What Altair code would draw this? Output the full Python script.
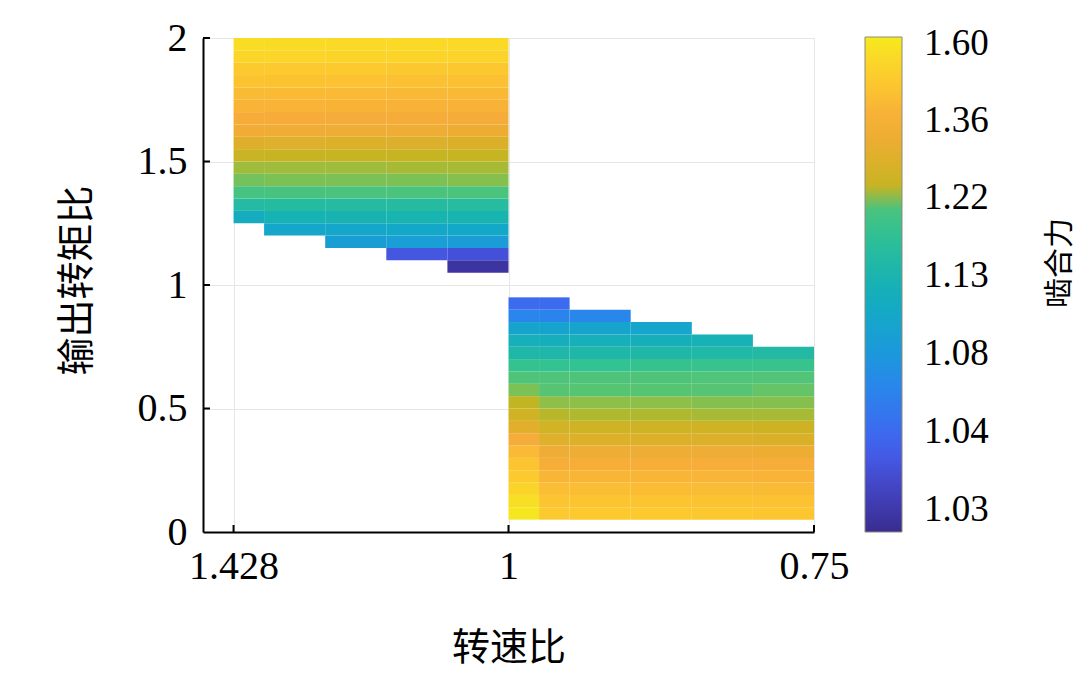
import altair as alt
import pandas as pd
import numpy as np

# ---------------- data ----------------
# x axis: grid index positions with their speed-ratio labels
x_tick_pos = [0, 4.5, 9.5]
x_tick_labels = ["1.428", "1", "0.75"]
y_ticks = [0, 0.5, 1, 1.5, 2]

# colour bar: labels and their fractional position along the bar (bottom=0, top=1)
cbar_values = [1.03, 1.04, 1.08, 1.13, 1.22, 1.36, 1.60]
cbar_pos = [0.044, 0.202, 0.360, 0.517, 0.675, 0.830, 0.986]
cbar_ends = [1.0272, 1.6215]          # values at the bar bottom / top

# colour stops along the bar (fraction, colour)
stop_pos = [0.000, 0.044, 0.100, 0.140, 0.202, 0.287, 0.360, 0.442, 0.517,
            0.610, 0.671, 0.678, 0.685, 0.731, 0.778, 0.832, 0.893, 0.947, 1.000]
stop_col = ["#392c90", "#3e38aa", "#4348c8", "#4556e2", "#3d6aef", "#2a85ec",
            "#1c98dc", "#14a8c8", "#18b4b0", "#34c290", "#52c476", "#8cc04a",
            "#c0b522", "#d5b226", "#e8ad30", "#f7ac3a", "#fcc331", "#fbd52a",
            "#f5ea1c"]

row_h = 0.05

# left block (speed ratio 1.428 -> 1): column spans, row bottoms, values (bottom -> top)
left_x0 = [0.0, 0.5, 1.5, 2.5, 3.5]
left_x1 = [0.5, 1.5, 2.5, 3.5, 4.5]
left_rows = [1.05, 1.10, 1.15, 1.20, 1.25, 1.30, 1.35, 1.40, 1.45, 1.50,
             1.55, 1.60, 1.65, 1.70, 1.75, 1.80, 1.85, 1.90, 1.95]
left_vals = [
    [None, None, None, None, 1.115, 1.152, 1.204, 1.220, 1.225, 1.245, 1.292, 1.338, 1.365, 1.395, 1.425, 1.458, 1.490, 1.545, 1.570],
    [None, None, None, 1.103, 1.127, 1.155, 1.206, 1.221, 1.225, 1.244, 1.290, 1.335, 1.362, 1.392, 1.422, 1.455, 1.486, 1.540, 1.565],
    [None, None, 1.090, 1.105, 1.129, 1.156, 1.207, 1.221, 1.225, 1.243, 1.288, 1.333, 1.360, 1.390, 1.420, 1.452, 1.483, 1.537, 1.560],
    [None, 1.036, 1.089, 1.106, 1.130, 1.157, 1.208, 1.221, 1.226, 1.243, 1.287, 1.331, 1.358, 1.388, 1.418, 1.450, 1.481, 1.535, 1.558],
    [1.029, 1.035, 1.088, 1.106, 1.130, 1.158, 1.208, 1.222, 1.226, 1.242, 1.285, 1.330, 1.357, 1.386, 1.416, 1.448, 1.480, 1.533, 1.556],
]

# right block (speed ratio 1 -> 0.75)
right_x0 = [4.5, 5.0, 5.5, 6.5, 7.5, 8.5]
right_x1 = [5.0, 5.5, 6.5, 7.5, 8.5, 9.5]
right_rows = [0.05, 0.10, 0.15, 0.20, 0.25, 0.30, 0.35, 0.40, 0.45, 0.50,
              0.55, 0.60, 0.65, 0.70, 0.75, 0.80, 0.85, 0.90]
right_vals = [
    [1.606, 1.575, 1.537, 1.490, 1.460, 1.420, 1.360, 1.297, 1.265, 1.232, 1.221, 1.214, 1.183, 1.143, 1.120, 1.099, 1.062, 1.041],
    [1.485, 1.462, 1.432, 1.402, 1.372, 1.335, 1.290, 1.262, 1.228, 1.223, 1.218, 1.213, 1.182, 1.142, 1.119, 1.098, 1.061, 1.041],
    [1.485, 1.462, 1.432, 1.401, 1.371, 1.334, 1.289, 1.261, 1.227, 1.223, 1.218, 1.213, 1.182, 1.143, 1.120, 1.099, 1.063, None],
    [1.483, 1.460, 1.430, 1.400, 1.370, 1.333, 1.288, 1.260, 1.227, 1.223, 1.218, 1.214, 1.184, 1.144, 1.121, 1.101, None, None],
    [1.478, 1.456, 1.427, 1.398, 1.368, 1.332, 1.287, 1.258, 1.226, 1.222, 1.218, 1.215, 1.186, 1.146, 1.124, None, None, None],
    [1.472, 1.452, 1.424, 1.396, 1.366, 1.330, 1.285, 1.255, 1.226, 1.222, 1.219, 1.216, 1.188, 1.150, None, None, None, None],
]

# ---------------- build table ----------------
map_v = [cbar_ends[0]] + cbar_values + [cbar_ends[1]]
map_t = [0.0] + cbar_pos + [1.0]

recs = []
for xs0, xs1, rows, vals in [(left_x0, left_x1, left_rows, left_vals),
                             (right_x0, right_x1, right_rows, right_vals)]:
    for c in range(len(xs0)):
        for r, y0 in enumerate(rows):
            v = vals[c][r]
            if v is None:
                continue
            recs.append({"x0": xs0[c], "x1": xs1[c], "y0": y0, "y1": y0 + row_h,
                         "value": v, "t": float(np.interp(v, map_v, map_t))})
df = pd.DataFrame(recs)

xscale = alt.Scale(domain=[-0.5, 9.5], nice=False, zero=False)
yscale = alt.Scale(domain=[0, 2], nice=False, zero=False)
cscale = alt.Scale(domain=stop_pos, range=stop_col, type="linear", interpolate="rgb")

x_expr = " : ".join(f"abs(datum.value - {p}) < 0.01 ? '{l}'" for p, l in zip(x_tick_pos, x_tick_labels)) + " : ''"
c_expr = " : ".join(f"abs(datum.value - {p}) < 0.005 ? '{l:.2f}'" for p, l in zip(cbar_pos, cbar_values)) + " : ''"

serif = "Liberation Serif"
cjk = "Noto Sans CJK SC"

x_axis = alt.Axis(
    values=x_tick_pos, labelExpr=x_expr, title="转速比",
    titleFont=cjk, titleFontSize=38, titleFontWeight="normal", titleColor="black",
    titleY=116, titleBaseline="middle",
    labelFont=serif, labelFontSize=40, labelColor="black", labelPadding=14,
    labelFlush=False, labelOverlap=False,
    tickSize=0, domainColor="black", domainWidth=2,
    grid=True, gridColor="#e6e6e6", gridWidth=1)
y_axis = alt.Axis(
    values=y_ticks, format="~g", title="输出转矩比",
    titleFont=cjk, titleFontSize=38, titleFontWeight="normal", titleColor="black",
    titleX=-126, titleY=242, titleAngle=270, titleBaseline="middle", titleAlign="center",
    labelFont=serif, labelFontSize=40, labelColor="black", labelPadding=16,
    labelFlush=False, labelOverlap=False,
    tickSize=0, domainColor="black", domainWidth=2,
    grid=True, gridColor="#e6e6e6", gridWidth=1)

heat = alt.Chart(df).mark_rect().encode(
    x=alt.X("x0:Q", scale=xscale, axis=x_axis),
    x2="x1:Q",
    y=alt.Y("y0:Q", scale=yscale, axis=y_axis),
    y2="y1:Q",
    color=alt.Color("t:Q", scale=cscale, legend=alt.Legend(
        type="gradient", direction="vertical", orient="none",
        legendX=662, legendY=-1, gradientLength=495, gradientThickness=37,
        gradientStrokeColor="#8c8c7c", gradientStrokeWidth=1,
        values=cbar_pos, labelExpr=c_expr, title="",
        labelFont=serif, labelFontSize=37, labelColor="black", labelOffset=22,
        labelOverlap=False)),
)

ytick_df = pd.DataFrame({"y0": y_ticks[1:]})
xtick_df = pd.DataFrame({"x0": x_tick_pos})

yticks = alt.Chart(ytick_df).mark_rule(color="black", strokeWidth=2).encode(
    y=alt.Y("y0:Q", scale=yscale, axis=y_axis), x=alt.value(0), x2=alt.value(7))
xticks = alt.Chart(xtick_df).mark_rule(color="black", strokeWidth=2).encode(
    x=alt.X("x0:Q", scale=xscale, axis=x_axis), y=alt.value(494), y2=alt.value(487))

ctitle = alt.Chart(pd.DataFrame({"s": ["啮合力"]})).mark_text(
    angle=270, font=cjk, fontSize=30, color="black", align="center", baseline="middle"
).encode(text="s:N", x=alt.value(857), y=alt.value(225))

chart = alt.layer(heat, yticks, xticks, ctitle).properties(
    width=611, height=494,
    padding={"left": 195, "top": 30, "right": 265, "bottom": 142},
    autosize=alt.AutoSizeParams(type="none"),
    background="white",
).configure_view(strokeWidth=0)

chart.save("out.html", embed_options={"renderer": "svg", "actions": False})
